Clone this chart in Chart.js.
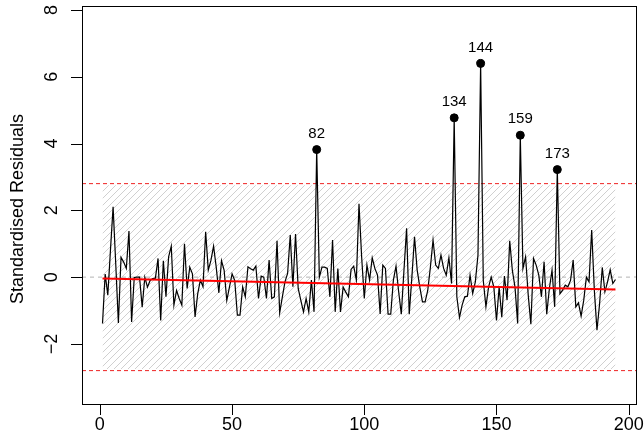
<!DOCTYPE html>
<html>
<head>
<meta charset="utf-8">
<script src="https://cdn.jsdelivr.net/npm/chart.js@4.4.0/dist/chart.umd.min.js"></script>
<style>
  html, body { margin: 0; padding: 0; background: #fff; }
  #wrap { width: 644px; height: 443px; }
</style>
</head>
<body>
<div id="wrap"><canvas id="resChart" width="644" height="443"></canvas></div>
<script>
// --- Data ---
// standardised residuals, observation 1..195
const residuals = [
  -1.39, 0.09, -0.54, 0.80, 2.11, 0.40, -1.37, 0.59, 0.45, 0.26,
   1.38, -1.34, -0.01, 0.00, 0.00, -0.90, 0.00, -0.30, -0.10, -0.04,
  -0.03, 0.56, -1.30, 0.49, -0.59, 0.61, 0.93, -0.84, -0.40, -0.64,
  -0.84, 1.00, -0.34, 0.30, 0.10, -1.19, -0.50, -0.09, -0.29, 1.36,
   0.21, 0.50, 0.93, 0.30, -0.47, 0.49, 0.20, -0.70, -0.30, 0.10,
  -0.10, -1.14, -1.14, -0.29, -0.59, 0.31, 0.25, 0.21, 0.33, -0.64,
   0.03, 0.00, -0.64, 0.51, -0.64, -0.59, 1.09, -1.07, -0.60, -0.14,
   0.11, 1.26, -0.29, 1.29, -0.34, -0.70, -1.04, -0.64, -1.04, -0.09,
  -1.04, 3.82, 0.00, 0.30, 0.30, 0.26, -0.59, 1.11, -1.04, 0.26,
  -1.04, -0.30, -0.45, -0.59, 0.23, 0.33, -0.09, 2.20, 0.60, -0.64,
   0.36, -0.09, 0.58, 0.26, 0.06, -1.10, 0.36, 0.26, -1.11, -1.11,
  -0.09, 0.33, -0.44, -1.11, 0.20, 1.46, -1.11, 0.00, 1.21, 0.21,
  -0.30, -0.74, -0.74, -0.40, 0.30, 1.11, 0.36, 0.26, 0.66, 0.26,
   0.06, 0.58, -0.19, 4.77, -0.59, -1.21, -0.84, -0.59, -0.57, 0.06,
  -0.49, -0.14, 0.66, 6.40, -0.10, -0.89, -0.30, 0.00, -0.30, -1.30,
  -0.30, -1.20, 0.03, -0.69, 1.09, 0.20, -0.30, -1.39, 4.25, 0.26,
   0.61, -0.54, -1.41, 0.56, 0.36, 0.06, -0.59, 0.46, -1.11, -0.34,
   0.21, -0.89, 3.22, -0.50, -0.39, -0.24, -0.29, -0.10, 0.51, -0.89,
  -0.77, -1.17, -0.69, 0.00, -0.14, 1.41, -0.39, -1.59, -0.79, 0.29,
  -0.44, -0.14, 0.22, -0.19, -0.07
];
const flagged = [82, 134, 144, 159, 173];   // labelled outliers
const trendX = [1, 195];
const trendY = [-0.04, -0.37];
const bandLimit = 2.75;     // hatched region
const cutoff = 2.8;         // red dashed limits
const xTicks = [0, 50, 100, 150, 200];
const yTicks = [-2, 0, 2, 4, 6, 8];
const xRange = [-6.76, 202.76];
const yRange = [-3.80, 8.12];

// --- Build points ---
const residPts = residuals.map((v, i) => ({ x: i + 1, y: v }));
const flaggedPts = flagged.map(n => ({ x: n, y: residuals[n - 1] }));
const firstObs = 1, lastObs = residuals.length;

const ctx = document.getElementById("resChart").getContext("2d");

function hatchPattern() {
    const s = 7;
    const c = document.createElement("canvas");
    c.width = s; c.height = s;
    const g = c.getContext("2d");
    g.strokeStyle = "#d0d0d0";
    g.lineWidth = 1;
    g.beginPath();
    g.moveTo(0, s); g.lineTo(s, 0);
    g.moveTo(-1, 1); g.lineTo(1, -1);
    g.moveTo(s - 1, s + 1); g.lineTo(s + 1, s - 1);
    g.stroke();
    return ctx.createPattern(c, "repeat");
}

function hLine(y) {
    return [{ x: xRange[0], y: y }, { x: xRange[1], y: y }];
}

// axes, box and text drawn R-style
const rAxes = {
    id: "rAxes",
    afterDatasetsDraw(chart) {
        const { ctx: g, chartArea: a, scales: { x, y } } = chart;
        g.save();
        g.strokeStyle = "#000";
        g.lineWidth = 1;
        g.strokeRect(Math.round(a.left) + 0.5, Math.round(a.top) + 0.5,
            Math.round(a.right - a.left), Math.round(a.bottom - a.top));

        g.fillStyle = "#000";
        g.font = "18px 'Liberation Sans', Arial, sans-serif";

        // x axis
        g.beginPath();
        xTicks.forEach(t => {
            const px = Math.round(x.getPixelForValue(t)) + 0.5;
            g.moveTo(px, a.bottom);
            g.lineTo(px, a.bottom + 11);
        });
        g.stroke();
        g.textAlign = "center";
        g.textBaseline = "middle";
        xTicks.forEach(t => g.fillText(String(t), x.getPixelForValue(t), a.bottom + 21));

        // y axis
        g.beginPath();
        yTicks.forEach(t => {
            const py = Math.round(y.getPixelForValue(t)) + 0.5;
            g.moveTo(a.left, py);
            g.lineTo(a.left - 11, py);
        });
        g.stroke();
        yTicks.forEach(t => {
            g.save();
            g.translate(a.left - 30, y.getPixelForValue(t));
            g.rotate(-Math.PI / 2);
            g.fillText(String(t).replace("-", "\u2212"), 0, 0);
            g.restore();
        });

        g.save();
        g.translate(18, (a.top + a.bottom) / 2 + 4);
        g.rotate(-Math.PI / 2);
        g.fillText("Standardised Residuals", 0, 0);
        g.restore();

        // outlier labels
        g.font = "15px 'Liberation Sans', Arial, sans-serif";
        flaggedPts.forEach(p => {
            g.fillText(String(p.x), x.getPixelForValue(p.x), y.getPixelForValue(p.y) - 16);
        });
        g.restore();
    }
};

const residChart = new Chart(ctx, {
    type: "line",
    data: {
        datasets: [
            { // hatched band, upper edge
                data: [{ x: firstObs, y: bandLimit }, { x: lastObs, y: bandLimit }],
                borderWidth: 0, pointRadius: 0, fill: 1,
                backgroundColor: hatchPattern(), order: 10
            },
            { // hatched band, lower edge
                data: [{ x: firstObs, y: -bandLimit }, { x: lastObs, y: -bandLimit }],
                borderWidth: 0, pointRadius: 0, fill: false, order: 9
            },
            { // zero line
                data: hLine(0), borderColor: "#b4b4b4", borderWidth: 1,
                borderDash: [4, 4], pointRadius: 0, order: 8
            },
            { // upper limit
                data: hLine(cutoff), borderColor: "#ee2222", borderWidth: 1,
                borderDash: [4, 3], pointRadius: 0, order: 7
            },
            { // lower limit
                data: hLine(-cutoff), borderColor: "#ee2222", borderWidth: 1,
                borderDash: [4, 3], pointRadius: 0, order: 7
            },
            { // residual series
                data: residPts, borderColor: "#000", borderWidth: 1.2,
                pointRadius: 0, tension: 0, order: 5
            },
            { // trend line
                data: trendX.map((v, i) => ({ x: v, y: trendY[i] })),
                borderColor: "#ff0000", borderWidth: 2, pointRadius: 0, order: 4
            },
            { // flagged observations
                data: flaggedPts, showLine: false, pointRadius: 4,
                pointBackgroundColor: "#000", pointBorderColor: "#000", order: 1
            }
        ]
    },
    options: {
        responsive: false,
        animation: false,
        devicePixelRatio: 1,
        layout: { padding: { left: 82, right: 8, top: 6, bottom: 39 } },
        plugins: { legend: { display: false }, tooltip: { enabled: false } },
        scales: {
            x: { type: "linear", min: xRange[0], max: xRange[1], display: false },
            y: { type: "linear", min: yRange[0], max: yRange[1], display: false }
        }
    },
    plugins: [rAxes]
});
</script>
</body>
</html>
